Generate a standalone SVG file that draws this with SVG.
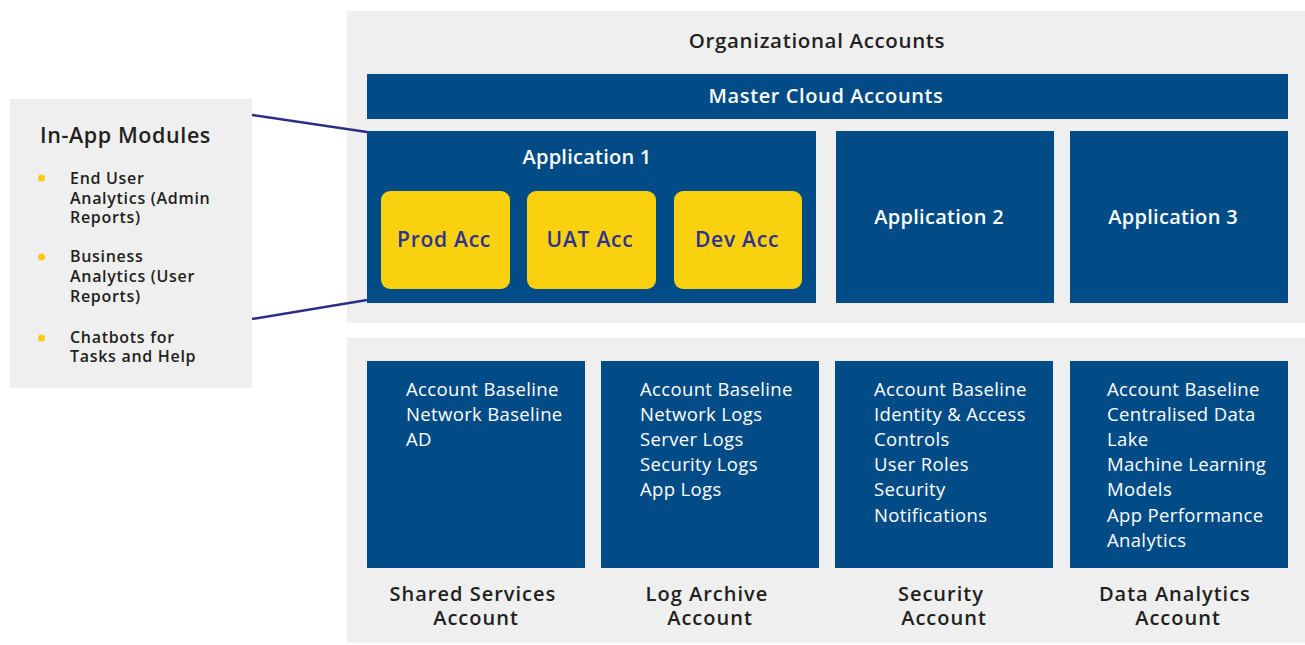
<svg xmlns="http://www.w3.org/2000/svg" width="1305" height="645" viewBox="0 0 1305 645">
  <style>
    .panel { fill: #efefef; }
    .blue { fill: #014c86; }
    .acc { fill: #f9d10e; }
    .link { stroke: #2b2e86; stroke-width: 2.5; fill: none; }
    .h { font-family: "Open Sans", "Liberation Sans", sans-serif; font-weight: 600; }
    .r { font-family: "Open Sans", "Liberation Sans", sans-serif; font-weight: 400; }
    .dark { fill: #231f20; }
    .white { fill: #ffffff; }
    .navy { fill: #2e3192; }
    .bullet { fill: #f9c913; }
    .item { font-size: 16px; letter-spacing: 0.7px; }
    .line { font-size: 18.5px; letter-spacing: 0.35px; }
    .label { font-size: 20px; letter-spacing: 1px; }
    .title { font-size: 20px; letter-spacing: 0.6px; }
  </style>

  <!-- background panels -->
  <rect class="panel" x="347" y="11" width="958" height="312"/>
  <rect class="panel" x="347" y="338" width="958" height="305"/>

  <!-- connectors from the module panel to Application 1 -->
  <g id="connectors">
    <line class="link" x1="252" y1="115" x2="367" y2="132"/>
    <line class="link" x1="252" y1="319" x2="367" y2="300"/>
  </g>

  <!-- In-App Modules panel -->
  <g id="in-app-modules">
    <rect class="panel" x="10" y="99" width="242" height="289"/>
    <text class="h dark" x="40" y="143" font-size="21.5" letter-spacing="0.6">In-App Modules</text>
    <circle class="bullet" cx="41.5" cy="178" r="3.5"/>
    <circle class="bullet" cx="41.5" cy="257" r="3.5"/>
    <circle class="bullet" cx="41.5" cy="338" r="3.5"/>
    <text class="h dark item">
      <tspan x="70" y="184">End User</tspan>
      <tspan x="70" y="204">Analytics (Admin</tspan>
      <tspan x="70" y="223">Reports)</tspan>
    </text>
    <text class="h dark item">
      <tspan x="70" y="262">Business</tspan>
      <tspan x="70" y="282">Analytics (User</tspan>
      <tspan x="70" y="302">Reports)</tspan>
    </text>
    <text class="h dark item">
      <tspan x="70" y="343">Chatbots for</tspan>
      <tspan x="70" y="362">Tasks and Help</tspan>
    </text>
  </g>

  <!-- organisational accounts -->
  <g id="org-title">
    <text class="h dark" x="817" y="48" font-size="20.5" letter-spacing="0.65" text-anchor="middle">Organizational Accounts</text>
  </g>

  <g id="master">
    <rect class="blue" x="367" y="74" width="921" height="45"/>
    <text class="h white title" x="826" y="103" text-anchor="middle">Master Cloud Accounts</text>
  </g>

  <g id="app1">
    <rect class="blue" x="367" y="131" width="449" height="172"/>
    <text class="h white" x="587" y="164" font-size="20" letter-spacing="0.25" text-anchor="middle">Application 1</text>
  </g>

  <g id="prod-acc">
    <rect class="acc" x="381" y="191" width="129" height="98" rx="9"/>
    <text class="h navy" x="444" y="247" font-size="21" letter-spacing="0.75" text-anchor="middle">Prod Acc</text>
  </g>
  <g id="uat-acc">
    <rect class="acc" x="527" y="191" width="129" height="98" rx="9"/>
    <text class="h navy" x="590" y="247" font-size="21" letter-spacing="0.75" text-anchor="middle">UAT Acc</text>
  </g>
  <g id="dev-acc">
    <rect class="acc" x="674" y="191" width="128" height="98" rx="9"/>
    <text class="h navy" x="737" y="247" font-size="21" letter-spacing="0.75" text-anchor="middle">Dev Acc</text>
  </g>

  <g id="app2">
    <rect class="blue" x="836" y="131" width="218" height="172"/>
    <text class="h white" x="939" y="224" font-size="20" letter-spacing="0.3" text-anchor="middle">Application 2</text>
  </g>
  <g id="app3">
    <rect class="blue" x="1070" y="131" width="218" height="172"/>
    <text class="h white" x="1173" y="224" font-size="20" letter-spacing="0.3" text-anchor="middle">Application 3</text>
  </g>

  <!-- core accounts -->
  <g id="shared-services">
    <rect class="blue" x="367" y="361" width="218" height="207"/>
    <text class="r white line">
      <tspan x="406" y="396">Account Baseline</tspan>
      <tspan x="406" y="421">Network Baseline</tspan>
      <tspan x="406" y="446">AD</tspan>
    </text>
    <text class="h dark label" text-anchor="middle">
      <tspan x="476" y="601">Shared Services</tspan>
      <tspan x="476" y="625">Account</tspan>
    </text>
  </g>

  <g id="log-archive">
    <rect class="blue" x="601" y="361" width="218" height="207"/>
    <text class="r white line">
      <tspan x="640" y="396">Account Baseline</tspan>
      <tspan x="640" y="421">Network Logs</tspan>
      <tspan x="640" y="446">Server Logs</tspan>
      <tspan x="640" y="471">Security Logs</tspan>
      <tspan x="640" y="496">App Logs</tspan>
    </text>
    <text class="h dark label" text-anchor="middle">
      <tspan x="710" y="601">Log Archive</tspan>
      <tspan x="710" y="625">Account</tspan>
    </text>
  </g>

  <g id="security">
    <rect class="blue" x="835" y="361" width="218" height="207"/>
    <text class="r white line">
      <tspan x="874" y="396">Account Baseline</tspan>
      <tspan x="874" y="421">Identity &amp; Access</tspan>
      <tspan x="874" y="446">Controls</tspan>
      <tspan x="874" y="471">User Roles</tspan>
      <tspan x="874" y="496">Security</tspan>
      <tspan x="874" y="522">Notifications</tspan>
    </text>
    <text class="h dark label" text-anchor="middle">
      <tspan x="944" y="601">Security</tspan>
      <tspan x="944" y="625">Account</tspan>
    </text>
  </g>

  <g id="data-analytics">
    <rect class="blue" x="1070" y="361" width="218" height="207"/>
    <text class="r white line">
      <tspan x="1107" y="396">Account Baseline</tspan>
      <tspan x="1107" y="421">Centralised Data</tspan>
      <tspan x="1107" y="446">Lake</tspan>
      <tspan x="1107" y="471">Machine Learning</tspan>
      <tspan x="1107" y="496">Models</tspan>
      <tspan x="1107" y="522">App Performance</tspan>
      <tspan x="1107" y="547">Analytics</tspan>
    </text>
    <text class="h dark label" text-anchor="middle">
      <tspan x="1178" y="601">Data Analytics</tspan>
      <tspan x="1178" y="625">Account</tspan>
    </text>
  </g>
</svg>
